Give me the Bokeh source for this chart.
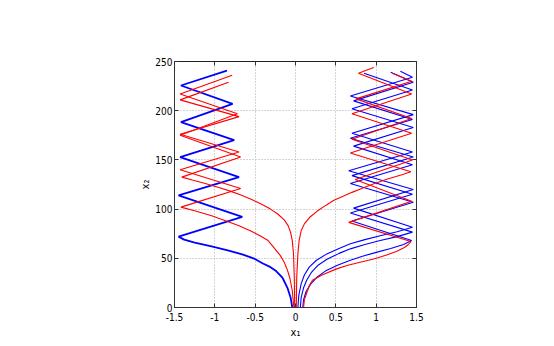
from bokeh.plotting import figure
from bokeh.models import LinearAxis, FixedTicker, Range1d
from bokeh.embed import file_html
from bokeh.resources import INLINE

# ---- data (x1 horizontal, x2 vertical) ----
blue_left_x = [-0.04, -0.06, -0.10, -0.16, -0.24, -0.31, -0.41, -0.52, -0.66, -0.84, -1.04, -1.25, -1.38, -1.45,
               -0.66, -1.45, -0.70, -1.43, -0.76, -1.42, -0.78, -1.42, -0.85]
blue_left_y = [0, 10, 20, 30, 37, 41, 45, 50, 54, 58, 62, 66, 69, 72,
               92, 114, 132.5, 152.8, 170, 188.3, 207, 225.6, 240.8]

red_left1_x = [-0.02, -0.04, -0.07, -0.10, -0.14, -0.19, -0.26, -0.34, -0.44, -0.56, -0.70, -0.86, -1.03, -1.24, -1.42,
               -0.68, -1.43, -0.70, -1.43, -0.70, -1.43, -0.83]
red_left1_y = [0, 17, 30, 38, 46, 53, 60, 68, 73, 78, 83, 88, 93, 98, 102,
               121, 140, 158, 176, 194, 211, 229]

red_left2_x = [-0.01, -0.015, -0.025, -0.04, -0.06, -0.09, -0.14, -0.22, -0.31, -0.42, -0.55, -0.67, -0.80, -0.95, -1.12, -1.28, -1.41,
               -0.68, -1.43, -0.72, -1.43, -0.785]
red_left2_y = [0, 30, 55, 68, 76, 83, 89, 95, 100, 105, 110, 114, 118, 122, 126, 129.5, 132.5,
               153, 175, 197, 217, 236]

red_right1_x = [0.01, 0.015, 0.03, 0.045, 0.07, 0.11, 0.18, 0.27, 0.38, 0.47, 0.59, 0.70, 0.82, 0.98, 1.16, 1.32, 1.43,
                0.68, 1.44, 0.70, 1.44, 0.78, 0.97]
red_right1_y = [0, 30, 55, 68, 78, 85, 92, 98, 104, 108.7, 113, 117, 121, 126, 131, 135, 138,
                157, 177, 197, 217, 238, 244]

red_right2_x = [0.10, 0.11, 0.14, 0.17, 0.21, 0.33, 0.50, 0.65, 0.80, 0.97, 1.12, 1.25, 1.35, 1.40, 1.43,
                0.66, 1.44, 0.74, 1.45, 0.70, 1.44, 0.75, 1.44, 1.20]
red_right2_y = [0, 8, 15, 22, 27.6, 33, 39, 43, 46, 49.3, 53, 57, 61, 64, 67,
                86.5, 108, 130, 150, 171, 192, 212, 230, 238]

blue_right1_x = [0.09, 0.10, 0.13, 0.19, 0.27, 0.37, 0.52, 0.68, 0.83, 1.00, 1.18, 1.34, 1.44,
                 0.70, 1.46, 0.68, 1.45, 0.72, 1.46, 0.70, 1.45, 0.85]
blue_right1_y = [0, 8, 16, 24, 31, 37, 43, 48, 52, 56, 60, 64, 68,
                 88, 107, 126, 145, 164, 183, 202, 221, 238]

blue_right2_x = [0.06, 0.07, 0.10, 0.14, 0.20, 0.28, 0.39, 0.54, 0.68, 0.86, 1.05, 1.26, 1.45,
                 0.68, 1.45, 0.70, 1.46, 0.68, 1.45, 0.72, 1.46, 1.18]
blue_right2_y = [0, 10, 20, 28, 36, 43, 49, 55, 59.6, 64, 68, 72, 76.6,
                 96, 115, 134, 153, 172, 191, 210, 229, 239]

blue_right3_x = [0.03, 0.04, 0.07, 0.11, 0.17, 0.26, 0.38, 0.54, 0.68, 0.86, 1.05, 1.26, 1.45,
                 0.72, 1.46, 0.66, 1.45, 0.70, 1.46, 0.68, 1.45, 1.30]
blue_right3_y = [0, 12, 24, 33, 41, 48, 54, 60, 64.7, 69, 73, 77, 81.6,
                 101, 120, 139, 158, 177, 196, 215, 234, 240]

x_ticks = [-1.5, -1, -0.5, 0, 0.5, 1, 1.5]
x_tick_labels = ["-1.5", "-1", "-0.5", "0", "0.5", "1", "1.5"]
y_ticks = [0, 50, 100, 150, 200, 250]
y_tick_labels = ["0", "50", "100", "150", "200", "250"]

FONT = "Liberation Sans Narrow, DejaVu Sans Condensed, Liberation Sans"

p = figure(frame_width=242, frame_height=246, output_backend="svg", toolbar_location=None,
           x_range=Range1d(-1.5, 1.5), y_range=Range1d(0, 250),
           min_border_left=174, min_border_top=61, min_border_right=30, min_border_bottom=30,
           background_fill_color="white", border_fill_color="white")
p.outline_line_color = "#222222"
p.outline_line_width = 1

for ax in p.xaxis:
    ax.ticker = FixedTicker(ticks=x_ticks)
    ax.major_label_overrides = {t: l for t, l in zip(x_ticks, x_tick_labels)}
for ax in p.yaxis:
    ax.ticker = FixedTicker(ticks=y_ticks)
    ax.major_label_overrides = {t: l for t, l in zip(y_ticks, y_tick_labels)}

p.xaxis.axis_label = "x\u2081"
p.yaxis.axis_label = "x\u2082"

for ax in list(p.xaxis) + list(p.yaxis):
    ax.axis_line_color = "#333333"
    ax.major_tick_in = 4
    ax.major_tick_out = 0
    ax.minor_tick_line_color = None
    ax.major_tick_line_color = "#333333"
    ax.major_label_text_font = FONT
    ax.major_label_text_font_size = "10px"
    ax.major_label_text_color = "black"
    ax.axis_label_text_font = FONT
    ax.axis_label_text_font_size = "11px"
    ax.axis_label_text_font_style = "normal"
    ax.axis_label_text_color = "black"
p.xaxis.major_label_standoff = 5
p.xaxis.axis_label_standoff = 2
p.yaxis.major_label_standoff = 2
p.yaxis.axis_label_standoff = 0

# top and right axes with inward ticks, no labels drawn
top = LinearAxis(ticker=FixedTicker(ticks=x_ticks), major_label_text_color=None,
                 major_tick_in=4, major_tick_out=0, minor_tick_line_color=None,
                 axis_line_color="#222222", major_tick_line_color="#333333")
right = LinearAxis(ticker=FixedTicker(ticks=y_ticks), major_label_text_color=None,
                   major_tick_in=4, major_tick_out=0, minor_tick_line_color=None,
                   axis_line_color="#333333", major_tick_line_color="#333333")
p.add_layout(top, "above")
p.add_layout(right, "right")

p.xgrid.ticker = FixedTicker(ticks=x_ticks)
p.ygrid.ticker = FixedTicker(ticks=y_ticks)
p.grid.grid_line_color = "#a8a8a8"
p.grid.grid_line_dash = "1 2"
p.grid.grid_line_width = 1

p.line(blue_left_x, blue_left_y, line_color="#0000ff", line_width=1.8)
for xs, ys in [(blue_right1_x, blue_right1_y), (blue_right2_x, blue_right2_y), (blue_right3_x, blue_right3_y)]:
    p.line(xs, ys, line_color="#0000ff", line_width=1.1)
for xs, ys in [(red_left1_x, red_left1_y), (red_left2_x, red_left2_y),
               (red_right1_x, red_right1_y), (red_right2_x, red_right2_y)]:
    p.line(xs, ys, line_color="#ff0000", line_width=1.1)

open("out.html", "w").write(file_html(p, INLINE))
